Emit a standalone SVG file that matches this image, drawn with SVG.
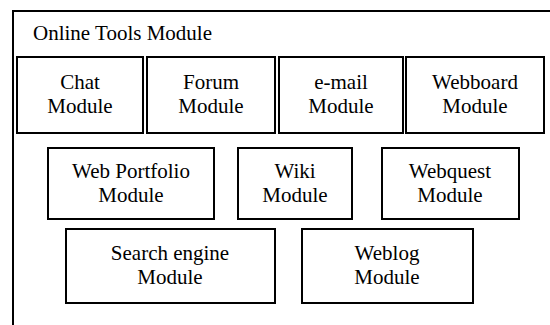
<svg xmlns="http://www.w3.org/2000/svg" width="550" height="325" viewBox="0 0 550 325">
<style>
.box{fill:#fff;stroke:#000;stroke-width:2}
text{font-family:"Liberation Serif","Times New Roman",serif;font-size:21px;fill:#000}
.c{text-anchor:middle}
</style>
<rect width="550" height="325" fill="#fff"/>
<g id="frame">
<path d="M13 330 V11 H560" fill="none" stroke="#000" stroke-width="2"/>
<text x="33" y="40">Online Tools Module</text>
</g>
<g id="connectors"></g>
<g id="chat"><rect class="box" x="17" y="57" width="126" height="76"/><text class="c" x="80" y="89">Chat</text><text class="c" x="80" y="113">Module</text></g>
<g id="forum"><rect class="box" x="147" y="57" width="128" height="76"/><text class="c" x="211" y="89">Forum</text><text class="c" x="211" y="113">Module</text></g>
<g id="email"><rect class="box" x="279" y="57" width="124" height="76"/><text class="c" x="341" y="89">e-mail</text><text class="c" x="341" y="113">Module</text></g>
<g id="webboard"><rect class="box" x="406" y="57" width="138" height="76"/><text class="c" x="475" y="89">Webboard</text><text class="c" x="475" y="113">Module</text></g>
<g id="portfolio"><rect class="box" x="48" y="148" width="166" height="71"/><text class="c" x="131" y="178">Web Portfolio</text><text class="c" x="131" y="202">Module</text></g>
<g id="wiki"><rect class="box" x="238" y="148" width="114" height="71"/><text class="c" x="295" y="178">Wiki</text><text class="c" x="295" y="202">Module</text></g>
<g id="webquest"><rect class="box" x="382" y="148" width="137" height="71"/><text class="c" x="450" y="178">Webquest</text><text class="c" x="450" y="202">Module</text></g>
<g id="search"><rect class="box" x="66" y="229" width="209" height="74"/><text class="c" x="170" y="260">Search engine</text><text class="c" x="170" y="284">Module</text></g>
<g id="weblog"><rect class="box" x="302" y="229" width="171" height="74"/><text class="c" x="387" y="260">Weblog</text><text class="c" x="387" y="284">Module</text></g>
</svg>
